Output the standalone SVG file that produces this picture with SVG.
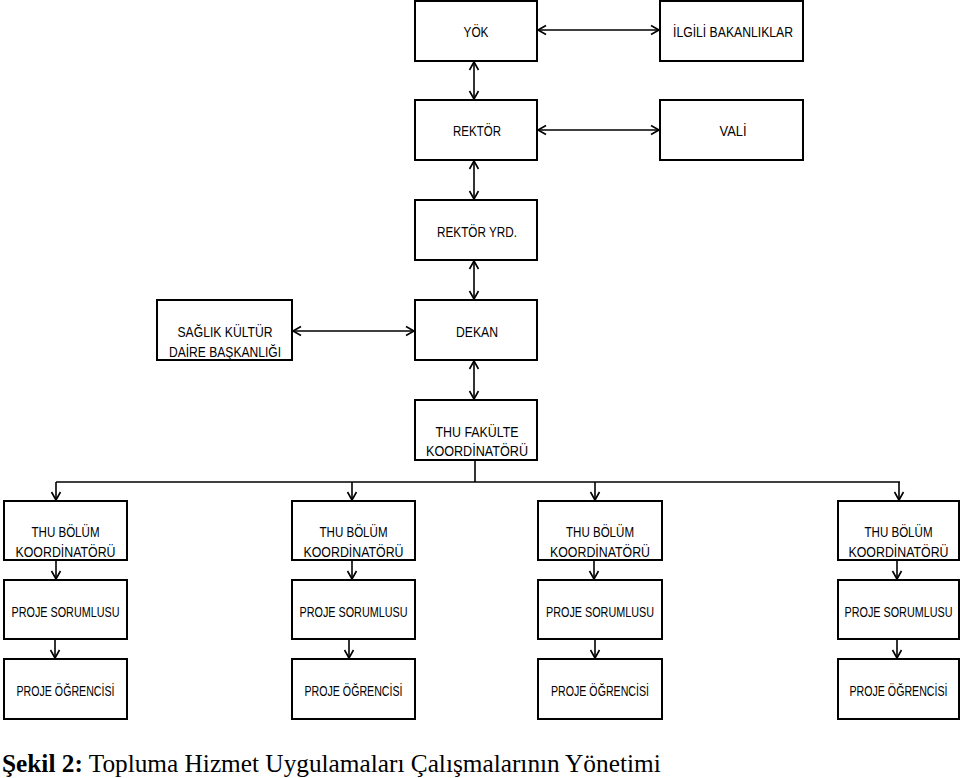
<svg xmlns="http://www.w3.org/2000/svg" width="960" height="778" viewBox="0 0 960 778">
<style>
.box{fill:#fff;stroke:#000;stroke-width:2}
.t{font-family:"Liberation Sans",Arial,sans-serif;font-size:14px;fill:#000;text-anchor:middle}
.c{stroke:#000;stroke-width:1.6;fill:none}
.cap{font-family:"Liberation Serif","Times New Roman",serif;font-size:25.3px;fill:#000}
</style>
<defs>
<marker id="ah" markerUnits="userSpaceOnUse" markerWidth="12" markerHeight="12" refX="9" refY="5" orient="auto-start-reverse" viewBox="0 0 12 10">
<path d="M1,0.5 L9,5 L1,9.5" fill="none" stroke="#000" stroke-width="1.6"/>
</marker>
</defs>
<rect width="960" height="778" fill="#fff"/>
<g id="connectors">
<line class="c" x1="538" y1="30" x2="659" y2="30" marker-start="url(#ah)" marker-end="url(#ah)"/>
<line class="c" x1="474" y1="62" x2="474" y2="99" marker-start="url(#ah)" marker-end="url(#ah)"/>
<line class="c" x1="538" y1="130" x2="659" y2="130" marker-start="url(#ah)" marker-end="url(#ah)"/>
<line class="c" x1="474" y1="161" x2="474" y2="199" marker-start="url(#ah)" marker-end="url(#ah)"/>
<line class="c" x1="474" y1="261" x2="474" y2="299" marker-start="url(#ah)" marker-end="url(#ah)"/>
<line class="c" x1="293" y1="331" x2="414" y2="331" marker-start="url(#ah)" marker-end="url(#ah)"/>
<line class="c" x1="474" y1="361" x2="474" y2="399" marker-start="url(#ah)" marker-end="url(#ah)"/>
<polyline class="c" points="475,461 475,482"/>
<polyline class="c" points="56,482 900,482"/>
<line class="c" x1="56" y1="482" x2="56" y2="500" marker-end="url(#ah)"/>
<line class="c" x1="352" y1="482" x2="352" y2="500" marker-end="url(#ah)"/>
<line class="c" x1="595" y1="482" x2="595" y2="500" marker-end="url(#ah)"/>
<line class="c" x1="899" y1="482" x2="899" y2="500" marker-end="url(#ah)"/>
<line class="c" x1="56" y1="561" x2="56" y2="579" marker-end="url(#ah)"/>
<line class="c" x1="352" y1="561" x2="352" y2="579" marker-end="url(#ah)"/>
<line class="c" x1="594" y1="561" x2="594" y2="579" marker-end="url(#ah)"/>
<line class="c" x1="897" y1="561" x2="897" y2="579" marker-end="url(#ah)"/>
<line class="c" x1="55" y1="640" x2="55" y2="658" marker-end="url(#ah)"/>
<line class="c" x1="349" y1="640" x2="349" y2="658" marker-end="url(#ah)"/>
<line class="c" x1="595" y1="640" x2="595" y2="658" marker-end="url(#ah)"/>
<line class="c" x1="897" y1="640" x2="897" y2="658" marker-end="url(#ah)"/>
</g>
<g id="yok"><rect class="box" x="415" y="1" width="122" height="60"/><text class="t" x="476" y="37" textLength="25" lengthAdjust="spacingAndGlyphs">YÖK</text></g>
<g id="ilgili"><rect class="box" x="660" y="1" width="143" height="60"/><text class="t" x="733" y="37" textLength="120" lengthAdjust="spacingAndGlyphs">İLGİLİ BAKANLIKLAR</text></g>
<g id="rektor"><rect class="box" x="415" y="100" width="122" height="60"/><text class="t" x="477" y="136" textLength="48" lengthAdjust="spacingAndGlyphs">REKTÖR</text></g>
<g id="vali"><rect class="box" x="660" y="100" width="143" height="60"/><text class="t" x="733" y="136" textLength="27" lengthAdjust="spacingAndGlyphs">VALİ</text></g>
<g id="rektoryrd"><rect class="box" x="415" y="200" width="122" height="60"/><text class="t" x="477" y="237" textLength="80" lengthAdjust="spacingAndGlyphs">REKTÖR YRD.</text></g>
<g id="saglik"><rect class="box" x="157" y="300" width="135" height="60"/><text class="t" x="225" y="337" textLength="95" lengthAdjust="spacingAndGlyphs">SAĞLIK KÜLTÜR</text><text class="t" x="225" y="357" textLength="112" lengthAdjust="spacingAndGlyphs">DAİRE BAŞKANLIĞI</text></g>
<g id="dekan"><rect class="box" x="415" y="300" width="122" height="60"/><text class="t" x="477" y="337" textLength="42" lengthAdjust="spacingAndGlyphs">DEKAN</text></g>
<g id="fakulte"><rect class="box" x="415" y="400" width="122" height="60"/><text class="t" x="477" y="437" textLength="83" lengthAdjust="spacingAndGlyphs">THU FAKÜLTE</text><text class="t" x="477" y="456" textLength="102" lengthAdjust="spacingAndGlyphs">KOORDİNATÖRÜ</text></g>
<g id="bolum1"><rect class="box" x="4" y="501" width="123" height="59"/><text class="t" x="65.5" y="537" textLength="68" lengthAdjust="spacingAndGlyphs">THU BÖLÜM</text><text class="t" x="65.5" y="557" textLength="100" lengthAdjust="spacingAndGlyphs">KOORDİNATÖRÜ</text></g>
<g id="bolum2"><rect class="box" x="292" y="501" width="123" height="59"/><text class="t" x="353.5" y="537" textLength="68" lengthAdjust="spacingAndGlyphs">THU BÖLÜM</text><text class="t" x="353.5" y="557" textLength="100" lengthAdjust="spacingAndGlyphs">KOORDİNATÖRÜ</text></g>
<g id="bolum3"><rect class="box" x="538" y="501" width="124" height="59"/><text class="t" x="600" y="537" textLength="68" lengthAdjust="spacingAndGlyphs">THU BÖLÜM</text><text class="t" x="600" y="557" textLength="100" lengthAdjust="spacingAndGlyphs">KOORDİNATÖRÜ</text></g>
<g id="bolum4"><rect class="box" x="838" y="501" width="121" height="59"/><text class="t" x="898.5" y="537" textLength="68" lengthAdjust="spacingAndGlyphs">THU BÖLÜM</text><text class="t" x="898.5" y="557" textLength="100" lengthAdjust="spacingAndGlyphs">KOORDİNATÖRÜ</text></g>
<g id="sorumlu1"><rect class="box" x="4" y="580" width="123" height="59"/><text class="t" x="65.5" y="617" textLength="108" lengthAdjust="spacingAndGlyphs">PROJE SORUMLUSU</text></g>
<g id="sorumlu2"><rect class="box" x="292" y="580" width="123" height="59"/><text class="t" x="353.5" y="617" textLength="108" lengthAdjust="spacingAndGlyphs">PROJE SORUMLUSU</text></g>
<g id="sorumlu3"><rect class="box" x="538" y="580" width="124" height="59"/><text class="t" x="600" y="617" textLength="108" lengthAdjust="spacingAndGlyphs">PROJE SORUMLUSU</text></g>
<g id="sorumlu4"><rect class="box" x="838" y="580" width="121" height="59"/><text class="t" x="898.5" y="617" textLength="108" lengthAdjust="spacingAndGlyphs">PROJE SORUMLUSU</text></g>
<g id="ogrenci1"><rect class="box" x="4" y="659" width="123" height="60"/><text class="t" x="65.5" y="696" textLength="98" lengthAdjust="spacingAndGlyphs">PROJE ÖĞRENCİSİ</text></g>
<g id="ogrenci2"><rect class="box" x="292" y="659" width="123" height="60"/><text class="t" x="353.5" y="696" textLength="98" lengthAdjust="spacingAndGlyphs">PROJE ÖĞRENCİSİ</text></g>
<g id="ogrenci3"><rect class="box" x="538" y="659" width="124" height="60"/><text class="t" x="600" y="696" textLength="98" lengthAdjust="spacingAndGlyphs">PROJE ÖĞRENCİSİ</text></g>
<g id="ogrenci4"><rect class="box" x="838" y="659" width="121" height="60"/><text class="t" x="898.5" y="696" textLength="98" lengthAdjust="spacingAndGlyphs">PROJE ÖĞRENCİSİ</text></g>
<text class="cap" x="2" y="772"><tspan font-weight="bold">Şekil 2:</tspan> Topluma Hizmet Uygulamaları Çalışmalarının Yönetimi</text>
</svg>
